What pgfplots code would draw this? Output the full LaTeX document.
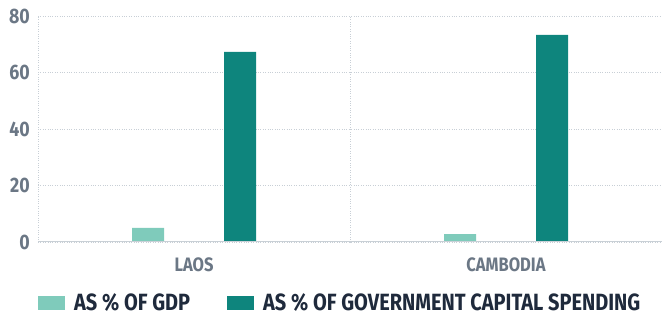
\documentclass[border=0pt]{standalone}
\usepackage{fontspec}
\setmainfont{Fira Sans}[FakeStretch=0.85]
\usepackage{pgfplots}
\pgfplotsset{compat=1.18}
\definecolor{lightteal}{HTML}{7FCBBB}
\definecolor{darkteal}{HTML}{0E857D}
\definecolor{tickgray}{HTML}{6B7785}
\definecolor{navy}{HTML}{1F2A3C}
\definecolor{gridgray}{HTML}{C8CFD6}
\definecolor{axisgray}{HTML}{C9D0D6}
\begin{document}
\begin{tikzpicture}
\begin{axis}[
  scale only axis, width=624bp, height=226bp,
  xmin=-0.5, xmax=1.5, ymin=0, ymax=80,
  xtick={0,1}, xticklabels={LAOS,CAMBODIA},
  ytick={0,20,40,60,80},
  extra x ticks={-0.5,0.5,1.5}, extra x tick labels={},
  extra x tick style={grid=major},
  ymajorgrids,
  major grid style={gridgray, dotted, line width=1bp},
  major tick length=0pt,
  axis line style={draw=none},
  /pgf/number format/assume math mode=true,
  yticklabel style={font=\bfseries\fontsize{21}{23}\selectfont, text=tickgray, inner sep=0pt, xshift=-8bp},
  xticklabel style={font=\bfseries\fontsize{19.5}{22}\selectfont, text=tickgray, inner sep=0pt, yshift=-16bp},
  ybar=60bp, bar width=32bp,
  legend columns=2,
  legend style={draw=none, at={(0,0)}, anchor=west, xshift=-3bp, yshift=-61bp,
    font=\bfseries\fontsize{23.6}{26}\selectfont, text=navy,
    /tikz/every odd column/.append style={column sep=7bp},
    /tikz/every even column/.append style={column sep=35bp}},
  legend image code/.code={\fill[#1] (0bp,-7bp) rectangle (27bp,7bp);},
]
\addplot[fill=lightteal, draw=none] coordinates {(0,5.0) (1,2.8)};
\addlegendentry{AS \% OF GDP}
\addplot[fill=darkteal, draw=none] coordinates {(0,67.3) (1,73.3)};
\addlegendentry{AS \% OF GOVERNMENT CAPITAL SPENDING}
\draw[axisgray, line width=1.3bp] (axis cs:-0.5,0) -- (axis cs:1.5,0);
\end{axis}
\pgfresetboundingbox
\path[use as bounding box] ([xshift=-38bp,yshift=-76bp]current axis.south west) rectangle ([yshift=16bp]current axis.north east);
\end{tikzpicture}
\end{document}
